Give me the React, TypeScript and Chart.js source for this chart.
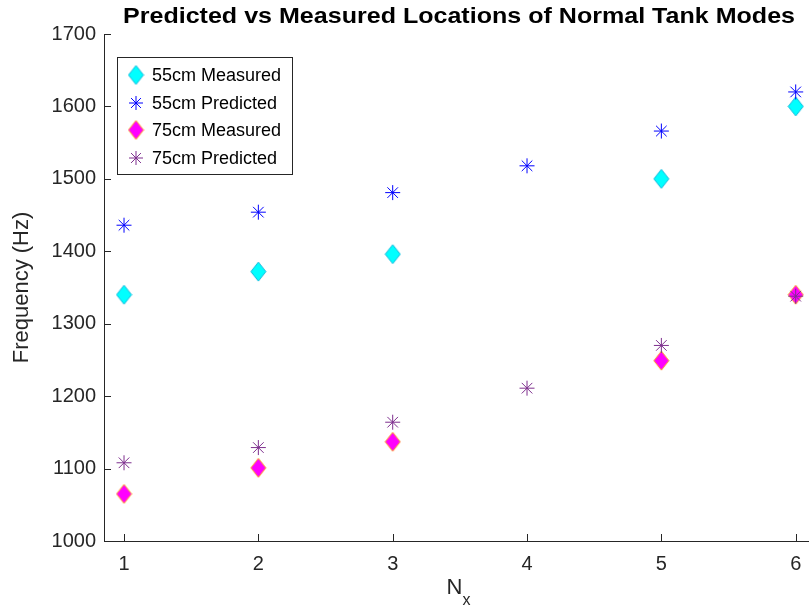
import React, { useEffect, useRef } from 'react';
import { Chart, registerables } from 'chart.js';

Chart.register(...registerables);

const NX = [1, 2, 3, 4, 5, 6];
const MEASURED_55: (number | null)[] = [1340, 1372, 1396, null, 1500, 1600];
const PREDICTED_55: (number | null)[] = [1436, 1454, 1481, 1518, 1566, 1620];
const MEASURED_75: (number | null)[] = [1065, 1101, 1137, null, 1249, 1340];
const PREDICTED_75: (number | null)[] = [1108, 1129, 1164, 1211, 1270, 1338];
const SERIES_LABELS = ['55cm Measured', '55cm Predicted', '75cm Measured', '75cm Predicted'];
const X_TICKS = [1, 2, 3, 4, 5, 6];
const Y_TICKS = [1000, 1100, 1200, 1300, 1400, 1500, 1600, 1700];
const TITLE = 'Predicted vs Measured Locations of Normal Tank Modes';
const Y_TITLE = 'Frequency (Hz)';
const X_TITLE_MAIN = 'N';
const X_TITLE_SUB = 'x';

const FONT = '"Liberation Sans", Arial, Helvetica, sans-serif';
const AXIS_COLOR = '#262626';

function makeDiamond(fill: string, stroke: string, w: number, h: number) {
  const c = document.createElement('canvas');
  c.width = w + 2;
  c.height = h + 2;
  const ctx = c.getContext('2d')!;
  const cx = (w + 2) / 2;
  const cy = (h + 2) / 2;
  ctx.beginPath();
  ctx.moveTo(cx, cy - h / 2);
  ctx.lineTo(cx + w / 2, cy);
  ctx.lineTo(cx, cy + h / 2);
  ctx.lineTo(cx - w / 2, cy);
  ctx.closePath();
  ctx.fillStyle = fill;
  ctx.fill();
  ctx.strokeStyle = stroke;
  ctx.lineWidth = 1;
  ctx.stroke();
  return c;
}

function toPoints(ys: (number | null)[]) {
  const pts: { x: number; y: number }[] = [];
  NX.forEach((x, i) => {
    const y = ys[i];
    if (y !== null && y !== undefined) pts.push({ x, y });
  });
  return pts;
}

function drawAsterisk(ctx: CanvasRenderingContext2D, x: number, y: number, r: number, color: string) {
  ctx.save();
  ctx.strokeStyle = color;
  ctx.lineWidth = 1;
  ctx.beginPath();
  for (let k = 0; k < 4; k++) {
    const a = (k * Math.PI) / 4;
    ctx.moveTo(x + Math.cos(a) * r, y + Math.sin(a) * r);
    ctx.lineTo(x - Math.cos(a) * r, y - Math.sin(a) * r);
  }
  ctx.stroke();
  ctx.restore();
}

export default function App() {
  const canvasRef = useRef<HTMLCanvasElement | null>(null);

  useEffect(() => {
    const canvas = canvasRef.current;
    if (!canvas) return;

    const cyanDiamond = makeDiamond('#00ffff', '#10b8dc', 15, 19);
    const magentaDiamond = makeDiamond('#ff00ff', '#ff9f1a', 15, 19);
    const colors = ['#00ffff', '#0000ff', '#ff00ff', '#7e2f8e'];

    const overlay = {
      id: 'matlabOverlay',
      afterDraw(chart: any) {
        const ctx: CanvasRenderingContext2D = chart.ctx;
        const area = chart.chartArea;
        const xs = chart.scales.x;
        const ys = chart.scales.y;
        ctx.save();
        // inward ticks
        ctx.strokeStyle = AXIS_COLOR;
        ctx.lineWidth = 1;
        ctx.beginPath();
        Y_TICKS.forEach((v) => {
          const py = Math.round(ys.getPixelForValue(v)) + 0.5;
          ctx.moveTo(area.left, py);
          ctx.lineTo(area.left + 7, py);
        });
        X_TICKS.forEach((v) => {
          const px = Math.round(xs.getPixelForValue(v)) + 0.5;
          ctx.moveTo(px, area.bottom);
          ctx.lineTo(px, area.bottom - 7);
        });
        ctx.stroke();

        // x tick labels
        ctx.fillStyle = AXIS_COLOR;
        ctx.font = `20px ${FONT}`;
        ctx.textAlign = 'center';
        ctx.textBaseline = 'middle';
        X_TICKS.forEach((v) => {
          ctx.fillText(String(v), xs.getPixelForValue(v), 564);
        });

        // title
        ctx.fillStyle = '#000000';
        ctx.font = `bold 22px ${FONT}`;
        ctx.textBaseline = 'alphabetic';
        ctx.textAlign = 'left';
        const tw = ctx.measureText(TITLE).width;
        const target = 672;
        const sx = target / tw;
        ctx.save();
        ctx.translate(123, 23);
        ctx.scale(sx, 1);
        ctx.fillText(TITLE, 0, 0);
        ctx.restore();

        // y title
        ctx.save();
        ctx.fillStyle = AXIS_COLOR;
        ctx.font = `22px ${FONT}`;
        ctx.textAlign = 'center';
        ctx.textBaseline = 'middle';
        ctx.translate(22, (area.top + area.bottom) / 2);
        ctx.rotate(-Math.PI / 2);
        ctx.fillText(Y_TITLE, 0, 0);
        ctx.restore();

        // x title with subscript
        ctx.fillStyle = AXIS_COLOR;
        ctx.textAlign = 'left';
        ctx.textBaseline = 'alphabetic';
        ctx.font = `22px ${FONT}`;
        const nW = ctx.measureText(X_TITLE_MAIN).width;
        ctx.font = `16px ${FONT}`;
        const sW = ctx.measureText(X_TITLE_SUB).width;
        const startX = (area.left + area.right) / 2 - (nW + sW) / 2 + 2;
        ctx.font = `22px ${FONT}`;
        ctx.fillText(X_TITLE_MAIN, startX, 594);
        ctx.font = `16px ${FONT}`;
        ctx.fillText(X_TITLE_SUB, startX + nW, 605);

        // legend
        const bx = 117.5, by = 57.5, bw = 175, bh = 117;
        ctx.fillStyle = '#ffffff';
        ctx.fillRect(bx, by, bw, bh);
        ctx.strokeStyle = AXIS_COLOR;
        ctx.lineWidth = 1;
        ctx.strokeRect(bx, by, bw, bh);
        const rows = [75, 103, 130, 158];
        ctx.font = `18px ${FONT}`;
        ctx.textBaseline = 'middle';
        ctx.textAlign = 'left';
        SERIES_LABELS.forEach((lab, i) => {
          const ry = rows[i];
          if (i === 0) ctx.drawImage(cyanDiamond, 136 - cyanDiamond.width / 2, ry - cyanDiamond.height / 2);
          else if (i === 2) ctx.drawImage(magentaDiamond, 136 - magentaDiamond.width / 2, ry - magentaDiamond.height / 2);
          else drawAsterisk(ctx, 136, ry, 7, colors[i]);
          ctx.fillStyle = '#000000';
          ctx.fillText(lab, 152, ry + 1);
        });
        ctx.restore();
      },
    };

    const chart = new Chart(canvas, {
      type: 'scatter',
      data: {
        datasets: [
          {
            label: SERIES_LABELS[0],
            data: toPoints(MEASURED_55),
            pointStyle: cyanDiamond as any,
            pointRadius: 9,
            backgroundColor: '#00ffff',
            borderColor: '#10b8dc',
            order: 4,
          },
          {
            label: SERIES_LABELS[1],
            data: toPoints(PREDICTED_55),
            pointStyle: 'star',
            pointRadius: 7.5,
            borderWidth: 1,
            borderColor: '#0000ff',
            backgroundColor: '#0000ff',
            order: 3,
          },
          {
            label: SERIES_LABELS[2],
            data: toPoints(MEASURED_75),
            pointStyle: magentaDiamond as any,
            pointRadius: 9,
            backgroundColor: '#ff00ff',
            borderColor: '#ff9f1a',
            order: 2,
          },
          {
            label: SERIES_LABELS[3],
            data: toPoints(PREDICTED_75),
            pointStyle: 'star',
            pointRadius: 7.5,
            borderWidth: 1,
            borderColor: '#7e2f8e',
            backgroundColor: '#7e2f8e',
            order: 1,
          },
        ],
      },
      options: {
        responsive: false,
        animation: false,
        events: [],
        layout: { autoPadding: false, padding: { top: 34, right: 0, bottom: 0, left: 0 } },
        plugins: {
          legend: { display: false },
          title: { display: false },
          tooltip: { enabled: false },
        },
        scales: {
          x: {
            type: 'linear',
            min: 0.851,
            max: 6.099,
            grid: { display: false, drawTicks: false },
            border: { display: true, color: AXIS_COLOR, width: 1 },
            ticks: { display: false },
            afterBuildTicks: (s: any) => {
              s.ticks = X_TICKS.map((v) => ({ value: v }));
            },
            afterFit: (s: any) => {
              s.height = 70;
              s.paddingLeft = 0;
              s.paddingRight = 0;
            },
          },
          y: {
            type: 'linear',
            min: 1000,
            max: 1700,
            grid: { display: false, drawTicks: false },
            border: { display: true, color: AXIS_COLOR, width: 1 },
            ticks: {
              color: AXIS_COLOR,
              font: { family: FONT, size: 20 },
              padding: 8,
              callback: (v: any) => String(v),
            },
            afterBuildTicks: (s: any) => {
              s.ticks = Y_TICKS.map((v) => ({ value: v }));
            },
            afterFit: (s: any) => {
              s.width = 104;
              s.paddingTop = 0;
              s.paddingBottom = 0;
            },
          },
        },
      },
      plugins: [overlay],
    });

    return () => {
      chart.destroy();
    };
  }, []);

  return (
    <div style={{ position: 'absolute', left: 0, top: 0, width: 809, height: 611, background: '#ffffff' }}>
      <canvas ref={canvasRef} width={809} height={611} />
    </div>
  );
}
